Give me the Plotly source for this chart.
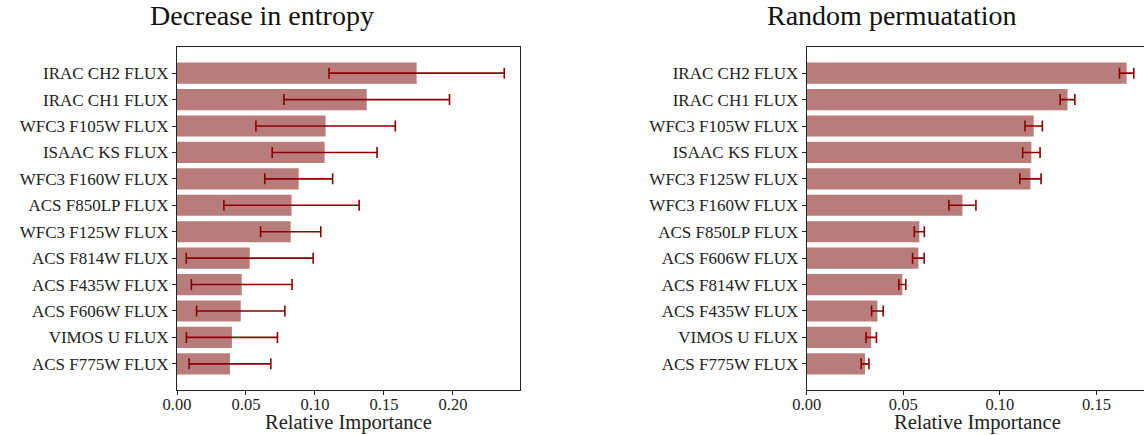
import plotly.graph_objects as go

# Left panel: Decrease in entropy (top to bottom)
entropy_labels = ["IRAC CH2 FLUX", "IRAC CH1 FLUX", "WFC3 F105W FLUX", "ISAAC KS FLUX",
                  "WFC3 F160W FLUX", "ACS F850LP FLUX", "WFC3 F125W FLUX", "ACS F814W FLUX",
                  "ACS F435W FLUX", "ACS F606W FLUX", "VIMOS U FLUX", "ACS F775W FLUX"]
entropy_values = [0.1737, 0.1375, 0.1077, 0.1070, 0.0882, 0.0830, 0.0824, 0.0527,
                  0.0469, 0.0462, 0.0398, 0.0384]
entropy_errors = [0.0635, 0.0600, 0.0505, 0.0380, 0.0246, 0.0490, 0.0218, 0.0460,
                  0.0365, 0.0320, 0.0330, 0.0296]

# Right panel: Random permutation (top to bottom)
perm_labels = ["IRAC CH2 FLUX", "IRAC CH1 FLUX", "WFC3 F105W FLUX", "ISAAC KS FLUX",
               "WFC3 F125W FLUX", "WFC3 F160W FLUX", "ACS F850LP FLUX", "ACS F606W FLUX",
               "ACS F814W FLUX", "ACS F435W FLUX", "VIMOS U FLUX", "ACS F775W FLUX"]
perm_values = [0.1656, 0.1350, 0.1175, 0.1163, 0.1158, 0.0806, 0.0583, 0.0578,
               0.0495, 0.0366, 0.0334, 0.0302]
perm_errors = [0.0037, 0.0038, 0.0045, 0.0045, 0.0055, 0.0070, 0.0026, 0.0030,
               0.0018, 0.0030, 0.0027, 0.0020]

x_ticks = [0.0, 0.05, 0.10, 0.15, 0.20]
x_ticktext = ["0.00", "0.05", "0.10", "0.15", "0.20"]

BAR = "rgb(184,124,123)"
ERR = "#8B0000"
FONT = "Liberation Serif"

n = len(entropy_labels)
ypos = [n - 1 - i for i in range(n)]

fig = go.Figure()
fig.add_trace(go.Bar(
    x=entropy_values, y=ypos, orientation="h", width=0.8,
    marker=dict(color=BAR, line=dict(width=0)),
    error_x=dict(type="data", array=entropy_errors, color=ERR, thickness=1.6, width=5.5),
    xaxis="x", yaxis="y", showlegend=False))
fig.add_trace(go.Bar(
    x=perm_values, y=ypos, orientation="h", width=0.8,
    marker=dict(color=BAR, line=dict(width=0)),
    error_x=dict(type="data", array=perm_errors, color=ERR, thickness=1.6, width=5.5),
    xaxis="x2", yaxis="y2", showlegend=False))

W, H = 1144, 435
top, bottom = 47, 45
ph = H - top - bottom

axis_common = dict(showline=True, linecolor="#222", linewidth=1, ticks="outside",
                   ticklen=4, tickcolor="#222", showgrid=False, zeroline=False,
                   automargin=False,
                   tickfont=dict(family=FONT, size=17, color="#222"))
xtickfont = dict(family=FONT, size=16.5, color="#222")

fig.update_layout(
    template="none",
    width=W, height=H, margin=dict(l=0, r=0, t=top, b=bottom, pad=0),
    paper_bgcolor="white", plot_bgcolor="white", bargap=0.2,
    xaxis=dict(domain=[177 / W, 520 / W], range=[0, 0.2486], anchor="y",
               tickvals=x_ticks, ticktext=x_ticktext, mirror=True,
               ticklabelstandoff=-5, **{**axis_common, "tickfont": xtickfont}),
    yaxis=dict(domain=[0, 1], range=[-0.99, 11.99], anchor="x",
               tickvals=ypos, ticktext=entropy_labels, mirror=True, **axis_common),
    xaxis2=dict(domain=[806.7 / W, 1.0], range=[0, 0.1746], anchor="y2",
                tickvals=x_ticks[:4], ticktext=x_ticktext[:4], mirror=True,
                ticklabelstandoff=-5, **{**axis_common, "tickfont": xtickfont}),
    yaxis2=dict(domain=[0, 1], range=[-0.99, 11.99], anchor="x2",
                tickvals=ypos, ticktext=perm_labels, mirror=False, **axis_common),
)

title_y = 1 + (top - 33) / ph
fig.add_annotation(text="Decrease in entropy", x=262 / W, y=title_y, xref="paper", yref="paper",
                   xanchor="center", yanchor="bottom", showarrow=False,
                   font=dict(family=FONT, size=28, color="#111"))
fig.add_annotation(text="Random permuatation", x=892 / W, y=title_y, xref="paper", yref="paper",
                   xanchor="center", yanchor="bottom", showarrow=False,
                   font=dict(family=FONT, size=28, color="#111"))
xt_y = -(422 - (H - bottom)) / ph
fig.add_annotation(text="Relative Importance", x=348.5 / W, y=xt_y, xref="paper", yref="paper",
                   xanchor="center", yanchor="middle", showarrow=False, borderpad=0,
                   font=dict(family=FONT, size=20.5, color="#222"))
fig.add_annotation(text="Relative Importance", x=977 / W, y=xt_y, xref="paper", yref="paper",
                   xanchor="center", yanchor="middle", showarrow=False, borderpad=0,
                   font=dict(family=FONT, size=20.5, color="#222"))

fig.write_html("out.html")
